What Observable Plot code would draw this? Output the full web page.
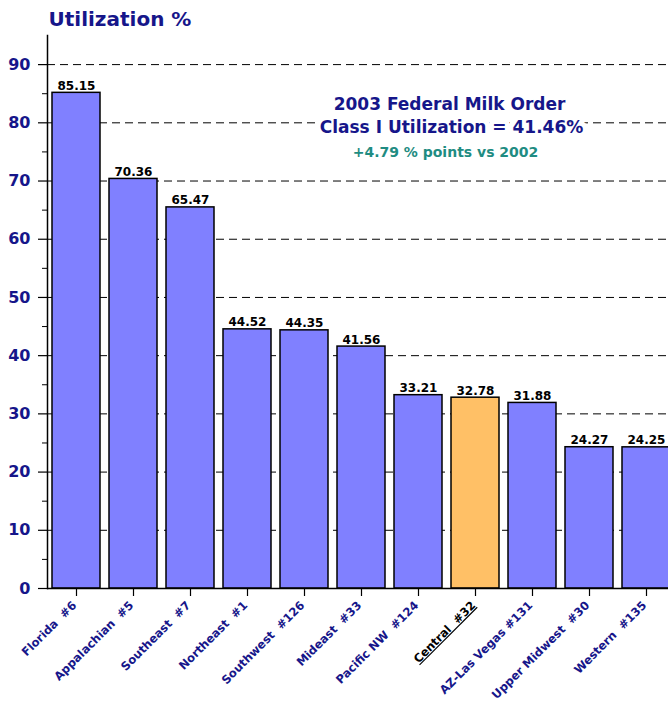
<!DOCTYPE html>
<html><head><meta charset="utf-8">
<script src="https://cdn.jsdelivr.net/npm/d3@7"></script>
<script src="https://cdn.jsdelivr.net/npm/@observablehq/plot@0.6"></script>
<style>
html,body{margin:0;padding:0;background:#fff;overflow:hidden;}
#chart svg{overflow:hidden;display:block;}
svg text{white-space:pre;}
</style></head><body><div id="chart"></div>
<script>
const regions = ["Florida  #6", "Appalachian  #5", "Southeast  #7", "Northeast  #1", "Southwest  #126", "Mideast  #33", "Pacific NW  #124", "Central  #32", "AZ-Las Vegas #131", "Upper Midwest  #30", "Western  #135"];
const utilization = [85.15, 70.36, 65.47, 44.52, 44.35, 41.56, 33.21, 32.78, 31.88, 24.27, 24.25];
const highlight = "Central  #32";
const yTicks = [0, 10, 20, 30, 40, 50, 60, 70, 80, 90];
const yMinorTicks = [5, 15, 25, 35, 45, 55, 65, 75, 85];
const titleText = "Utilization %";
const noteLine1 = "2003 Federal Milk Order";
const noteLine2 = "Class I Utilization = 41.46%";
const noteLine3 = "+4.79 % points vs 2002";

const data = regions.map((r, i) => ({region: r, value: utilization[i]}));
const navy = "#16168a";
const teal = "#1f8c82";
const font = "DejaVu Sans";

const chart = Plot.plot({
  width: 668, height: 702,
  marginTop: 35, marginBottom: 114, marginLeft: 47, marginRight: -7,
  style: {background: "white", fontFamily: font, overflow: "hidden"},
  x: {domain: regions, paddingInner: 0.16, paddingOuter: 0.08, label: null},
  y: {domain: [0, 95], label: null},
  marks: [
    Plot.gridY(yTicks.filter(d => d > 0), {stroke: "black", strokeOpacity: 1, strokeWidth: 1, strokeDasharray: "8,5"}),
    Plot.barY(data, {x: "region", y: "value", fill: d => d.region === highlight ? "#ffc066" : "#8080ff", stroke: "black", strokeWidth: 1.5}),
    Plot.text(data, {x: "region", y: "value", text: d => d.value.toFixed(2), dy: -3, lineAnchor: "bottom", fontSize: 12, fontWeight: "bold", fill: "black"}),
    Plot.axisY({ticks: yTicks, tickSize: 9, tickFormat: () => "", label: null, stroke: "black", strokeWidth: 1.2}),
    Plot.axisY({ticks: yMinorTicks, tickSize: 5, tickFormat: () => "", label: null, stroke: "black"}),
    Plot.axisY({ticks: yTicks, tickSize: 0, tickPadding: 17, label: null, fontSize: 16, fontWeight: "bold", fill: navy}),
    Plot.frame({anchor: "left", stroke: "black", strokeWidth: 1.5}),
    Plot.ruleY([0], {stroke: "black", strokeWidth: 1.5}),
    Plot.axisX({tickSize: 8, tickFormat: () => "", label: null, stroke: "black", strokeWidth: 1.2}),
    Plot.text(regions, {x: d => d, frameAnchor: "bottom", text: d => d, rotate: -45, textAnchor: "end", lineAnchor: "middle", dx: -2, dy: 15, fontSize: 11.6, fontWeight: "bold", fill: d => d === highlight ? "black" : navy}),
    Plot.text([titleText], {frameAnchor: "top-left", text: d => d, dx: 1, dy: -16, textAnchor: "start", lineAnchor: "middle", fontSize: 20, fontWeight: "bold", fill: navy}),
    Plot.text([noteLine1], {frameAnchor: "top-left", text: d => d, dx: 402, dy: 69, textAnchor: "middle", lineAnchor: "middle", fontSize: 17, fontWeight: "bold", fill: navy, stroke: "white", strokeWidth: 10}),
    Plot.text([noteLine2], {frameAnchor: "top-left", text: d => d, dx: 404, dy: 92, textAnchor: "middle", lineAnchor: "middle", fontSize: 17, fontWeight: "bold", fill: navy, stroke: "white", strokeWidth: 10}),
    Plot.text([noteLine3], {frameAnchor: "top-left", text: d => d, dx: 398, dy: 117, textAnchor: "middle", lineAnchor: "middle", fontSize: 14, fontWeight: "bold", fill: teal, stroke: "white", strokeWidth: 8})
  ]
});
d3.select(chart).selectAll("text").filter(function() { return this.textContent === highlight; }).attr("text-decoration", "underline");
document.getElementById("chart").appendChild(chart);
</script>
</body></html>
